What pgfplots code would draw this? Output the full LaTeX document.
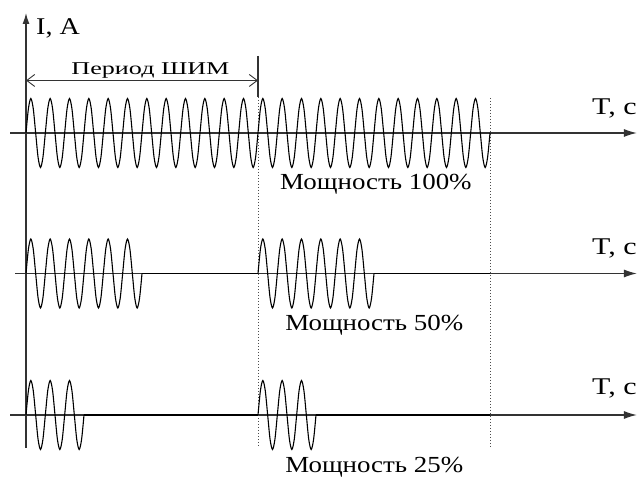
\documentclass[border=0pt]{standalone}
\usepackage{fontspec}
\setmainfont{Liberation Serif}
\usepackage{graphicx}
\usepackage{pgfplots}
\pgfplotsset{compat=1.18}
\usetikzlibrary{arrows.meta}
\begin{document}
\begin{tikzpicture}
\begin{axis}[scale only axis, width=638bp, height=477bp,
  xmin=-10.7586, xmax=253.24, ymin=0, ymax=477,
  hide axis, clip=false]
\path (rel axis cs:0,0) rectangle (rel axis cs:1,1);
% axes
\addplot[black!80, line width=1.3bp, -{Latex[length=11bp,width=7bp]}] coordinates {(0,29) (0,464)};
\addplot[black!80, line width=1.3bp, -{Latex[length=13bp,width=8bp]}] coordinates {(-6.62,344) (252.8,344)};
\addplot[black!80, line width=1.3bp, -{Latex[length=13bp,width=8bp]}] coordinates {(-4.55,203.5) (252.8,203.5)};
\addplot[black!80, line width=1.3bp, -{Latex[length=13bp,width=8bp]}] coordinates {(-6.62,62) (252.8,62)};
% period marker
\addplot[black!80, line width=0.9bp, {Straight Barb[length=8bp,width=12bp]}-{Straight Barb[length=8bp,width=12bp]}] coordinates {(0,396.5) (96,396.5)};
\addplot[black!80, line width=1.1bp] coordinates {(96,421) (96,380)};
\addplot[black!70, line width=0.8bp, dash pattern=on 1.5bp off 1.5bp] coordinates {(96,380) (96,30)};
\addplot[black!70, line width=0.8bp, dash pattern=on 1.5bp off 1.5bp] coordinates {(192,379) (192,30)};
% Row 1: 100%
\addplot[black, line width=1.1bp, smooth] coordinates {
(0,344)(1,368.4)(2,378.5)(3,368.4)(4,344)(5,319.6)(6,309.5)(7,319.6)
(8,344)(9,368.4)(10,378.5)(11,368.4)(12,344)(13,319.6)(14,309.5)(15,319.6)
(16,344)(17,368.4)(18,378.5)(19,368.4)(20,344)(21,319.6)(22,309.5)(23,319.6)
(24,344)(25,368.4)(26,378.5)(27,368.4)(28,344)(29,319.6)(30,309.5)(31,319.6)
(32,344)(33,368.4)(34,378.5)(35,368.4)(36,344)(37,319.6)(38,309.5)(39,319.6)
(40,344)(41,368.4)(42,378.5)(43,368.4)(44,344)(45,319.6)(46,309.5)(47,319.6)
(48,344)(49,368.4)(50,378.5)(51,368.4)(52,344)(53,319.6)(54,309.5)(55,319.6)
(56,344)(57,368.4)(58,378.5)(59,368.4)(60,344)(61,319.6)(62,309.5)(63,319.6)
(64,344)(65,368.4)(66,378.5)(67,368.4)(68,344)(69,319.6)(70,309.5)(71,319.6)
(72,344)(73,368.4)(74,378.5)(75,368.4)(76,344)(77,319.6)(78,309.5)(79,319.6)
(80,344)(81,368.4)(82,378.5)(83,368.4)(84,344)(85,319.6)(86,309.5)(87,319.6)
(88,344)(89,368.4)(90,378.5)(91,368.4)(92,344)(93,319.6)(94,309.5)(95,319.6)
(96,344)(97,368.4)(98,378.5)(99,368.4)(100,344)(101,319.6)(102,309.5)(103,319.6)
(104,344)(105,368.4)(106,378.5)(107,368.4)(108,344)(109,319.6)(110,309.5)(111,319.6)
(112,344)(113,368.4)(114,378.5)(115,368.4)(116,344)(117,319.6)(118,309.5)(119,319.6)
(120,344)(121,368.4)(122,378.5)(123,368.4)(124,344)(125,319.6)(126,309.5)(127,319.6)
(128,344)(129,368.4)(130,378.5)(131,368.4)(132,344)(133,319.6)(134,309.5)(135,319.6)
(136,344)(137,368.4)(138,378.5)(139,368.4)(140,344)(141,319.6)(142,309.5)(143,319.6)
(144,344)(145,368.4)(146,378.5)(147,368.4)(148,344)(149,319.6)(150,309.5)(151,319.6)
(152,344)(153,368.4)(154,378.5)(155,368.4)(156,344)(157,319.6)(158,309.5)(159,319.6)
(160,344)(161,368.4)(162,378.5)(163,368.4)(164,344)(165,319.6)(166,309.5)(167,319.6)
(168,344)(169,368.4)(170,378.5)(171,368.4)(172,344)(173,319.6)(174,309.5)(175,319.6)
(176,344)(177,368.4)(178,378.5)(179,368.4)(180,344)(181,319.6)(182,309.5)(183,319.6)
(184,344)(185,368.4)(186,378.5)(187,368.4)(188,344)(189,319.6)(190,309.5)(191,319.6)
(192,344)};
% Row 2: 50%
\addplot[black, line width=1.1bp, smooth] coordinates {
(0,203.5)(1,227.9)(2,238)(3,227.9)(4,203.5)(5,179.1)(6,169)(7,179.1)
(8,203.5)(9,227.9)(10,238)(11,227.9)(12,203.5)(13,179.1)(14,169)(15,179.1)
(16,203.5)(17,227.9)(18,238)(19,227.9)(20,203.5)(21,179.1)(22,169)(23,179.1)
(24,203.5)(25,227.9)(26,238)(27,227.9)(28,203.5)(29,179.1)(30,169)(31,179.1)
(32,203.5)(33,227.9)(34,238)(35,227.9)(36,203.5)(37,179.1)(38,169)(39,179.1)
(40,203.5)(41,227.9)(42,238)(43,227.9)(44,203.5)(45,179.1)(46,169)(47,179.1)
(48,203.5)};
\addplot[black, line width=1.1bp, smooth] coordinates {
(96,203.5)(97,227.9)(98,238)(99,227.9)(100,203.5)(101,179.1)(102,169)(103,179.1)
(104,203.5)(105,227.9)(106,238)(107,227.9)(108,203.5)(109,179.1)(110,169)(111,179.1)
(112,203.5)(113,227.9)(114,238)(115,227.9)(116,203.5)(117,179.1)(118,169)(119,179.1)
(120,203.5)(121,227.9)(122,238)(123,227.9)(124,203.5)(125,179.1)(126,169)(127,179.1)
(128,203.5)(129,227.9)(130,238)(131,227.9)(132,203.5)(133,179.1)(134,169)(135,179.1)
(136,203.5)(137,227.9)(138,238)(139,227.9)(140,203.5)(141,179.1)(142,169)(143,179.1)
(144,203.5)};
\addplot[black, line width=1.1bp] coordinates {(48,203.5)(96,203.5)};
\addplot[black, line width=1.1bp] coordinates {(144,203.5)(192,203.5)};
% Row 3: 25%
\addplot[black, line width=1.1bp, smooth] coordinates {
(0,62)(1,86.4)(2,96.5)(3,86.4)(4,62)(5,37.6)(6,27.5)(7,37.6)
(8,62)(9,86.4)(10,96.5)(11,86.4)(12,62)(13,37.6)(14,27.5)(15,37.6)
(16,62)(17,86.4)(18,96.5)(19,86.4)(20,62)(21,37.6)(22,27.5)(23,37.6)
(24,62)};
\addplot[black, line width=1.1bp, smooth] coordinates {
(96,62)(97,86.4)(98,96.5)(99,86.4)(100,62)(101,37.6)(102,27.5)(103,37.6)
(104,62)(105,86.4)(106,96.5)(107,86.4)(108,62)(109,37.6)(110,27.5)(111,37.6)
(112,62)(113,86.4)(114,96.5)(115,86.4)(116,62)(117,37.6)(118,27.5)(119,37.6)
(120,62)};
\addplot[black, line width=1.1bp] coordinates {(24,62)(96,62)};
\addplot[black, line width=1.1bp] coordinates {(120,62)(192,62)};
% labels
\node[anchor=base west, inner sep=0pt, font=\fontsize{24bp}{28bp}\selectfont] at (axis cs:4.14,442) {\scalebox{1.17}[1]{I, A}};
\node[anchor=base west, inner sep=0pt, font=\fontsize{24bp}{28bp}\selectfont] at (axis cs:234.2,362) {\scalebox{1.25}[1]{T, c}};
\node[anchor=base west, inner sep=0pt, font=\fontsize{24bp}{28bp}\selectfont] at (axis cs:234.2,222) {\scalebox{1.25}[1]{T, c}};
\node[anchor=base west, inner sep=0pt, font=\fontsize{24bp}{28bp}\selectfont] at (axis cs:234.2,82) {\scalebox{1.25}[1]{T, c}};
\node[anchor=base, inner sep=0pt, font=\fontsize{18bp}{21bp}\selectfont] at (axis cs:51.5,402) {\scalebox{1.45}[1]{Период ШИМ}};
\node[anchor=base west, inner sep=0pt, font=\fontsize{23bp}{27bp}\selectfont] at (axis cs:105.1,287) {\scalebox{1.17}[1]{Мощность 100\%}};
\node[anchor=base west, inner sep=0pt, font=\fontsize{23bp}{27bp}\selectfont] at (axis cs:107.2,146) {\scalebox{1.17}[1]{Мощность 50\%}};
\node[anchor=base west, inner sep=0pt, font=\fontsize{23bp}{27bp}\selectfont] at (axis cs:107.2,5) {\scalebox{1.17}[1]{Мощность 25\%}};
\end{axis}
\end{tikzpicture}
\end{document}
